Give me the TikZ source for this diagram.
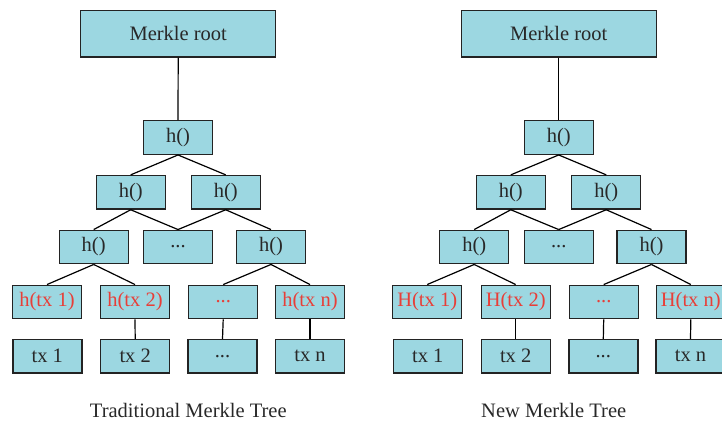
\documentclass[tikz,border=0pt]{standalone}
\usepackage{fontspec}
\setmainfont{Liberation Serif}
\definecolor{boxfill}{RGB}{156,215,225}
\definecolor{boxline}{RGB}{35,35,35}
\definecolor{txtdark}{RGB}{40,40,40}
\definecolor{txtred}{RGB}{232,62,56}
\tikzset{
  hbox/.style={draw=boxline, fill=boxfill, line width=1.4pt, minimum width=69pt, minimum height=33.5pt, inner sep=0pt, text=txtdark, font=\fontsize{20.5}{24}\selectfont},
  rootbox/.style={hbox, minimum width=195pt, minimum height=46.5pt},
  redtxt/.style={text=txtred},
  link/.style={draw=black, line width=1.2pt},
  caption/.style={anchor=base, text=txtdark, font=\fontsize{20.5}{24}\selectfont}
}
\begin{document}
\begin{tikzpicture}[x=1pt, y=-1pt]
\useasboundingbox (0,0) rectangle (722,421);
\begin{scope}
\clip (0,0) rectangle (722,421);
% ---------- left tree ----------
\node[rootbox] (Lroot) at (178.2,33.7) {Merkle root};
\node[hbox] (La1) at (178,137.5) {h()};
\node[hbox] (Lb1) at (130.7,192.3) {h()};
\node[hbox] (Lb2) at (225.7,192.3) {h()};
\node[hbox] (Lc1) at (93.7,247) {h()};
\node[hbox] (Lc2) at (178,247) {...};
\node[hbox] (Lc3) at (271,247) {h()};
\node[hbox, redtxt] (Ld1) at (47,302) {h(tx 1)};
\node[hbox, redtxt] (Ld2) at (135,302) {h(tx 2)};
\node[hbox, redtxt] (Ld3) at (223.2,302) {...};
\node[hbox, redtxt] (Ld4) at (310,302) {h(tx n)};
\node[hbox] (Le1) at (47.3,356.3) {tx 1};
\node[hbox] (Le2) at (135.2,356.3) {tx 2};
\node[hbox] (Le3) at (222.5,356.3) {...};
\node[hbox] (Le4) at (310,356.3) {tx n};
\draw[link] (Lroot.south) -- (La1.north);
\draw[link] (La1.south) -- (Lb1.north);
\draw[link] (La1.south) -- (Lb2.north);
\draw[link] (Lb1.south) -- (Lc1.north);
\draw[link] (Lb1.south) -- (Lc2.north);
\draw[link] (Lb2.south) -- (Lc2.north);
\draw[link] (Lb2.south) -- (Lc3.north);
\draw[link] (Lc1.south) -- (Ld1.north);
\draw[link] (Lc1.south) -- (Ld2.north);
\draw[link] (Lc3.south) -- (Ld3.north);
\draw[link] (Lc3.south) -- (Ld4.north);
\draw[link] (Ld2.south) -- (Le2.north);
\draw[link] (Ld3.south) -- (Le3.north);
\draw[link] (Ld4.south) -- (Le4.north);
\node[caption] (Lcap) at (188.3,417.3) {Traditional Merkle Tree};
% ---------- right tree ----------
\node[rootbox] (Rroot) at (558.7,33.7) {Merkle root};
\node[hbox] (Ra1) at (558.7,137.5) {h()};
\node[hbox] (Rb1) at (510.8,192.3) {h()};
\node[hbox] (Rb2) at (606.2,192.3) {h()};
\node[hbox] (Rc1) at (474.2,247) {h()};
\node[hbox] (Rc2) at (558.7,247) {...};
\node[hbox] (Rc3) at (651.5,247) {h()};
\node[hbox, redtxt] (Rd1) at (427.2,302) {H(tx 1)};
\node[hbox, redtxt] (Rd2) at (515.7,302) {H(tx 2)};
\node[hbox, redtxt] (Rd3) at (603.7,302) {...};
\node[hbox, redtxt] (Rd4) at (690.8,302) {H(tx n)};
\node[hbox] (Re1) at (427.8,356.3) {tx 1};
\node[hbox] (Re2) at (515.7,356.3) {tx 2};
\node[hbox] (Re3) at (603.3,356.3) {...};
\node[hbox] (Re4) at (690.5,356.3) {tx n};
\draw[link] (Rroot.south) -- (Ra1.north);
\draw[link] (Ra1.south) -- (Rb1.north);
\draw[link] (Ra1.south) -- (Rb2.north);
\draw[link] (Rb1.south) -- (Rc1.north);
\draw[link] (Rb1.south) -- (Rc2.north);
\draw[link] (Rb2.south) -- (Rc2.north);
\draw[link] (Rb2.south) -- (Rc3.north);
\draw[link] (Rc1.south) -- (Rd1.north);
\draw[link] (Rc1.south) -- (Rd2.north);
\draw[link] (Rc3.south) -- (Rd3.north);
\draw[link] (Rc3.south) -- (Rd4.north);
\draw[link] (Rd2.south) -- (Re2.north);
\draw[link] (Rd3.south) -- (Re3.north);
\draw[link] (Rd4.south) -- (Re4.north);
\node[caption] (Rcap) at (553.7,417.3) {New Merkle Tree};
\end{scope}
\end{tikzpicture}
\end{document}
